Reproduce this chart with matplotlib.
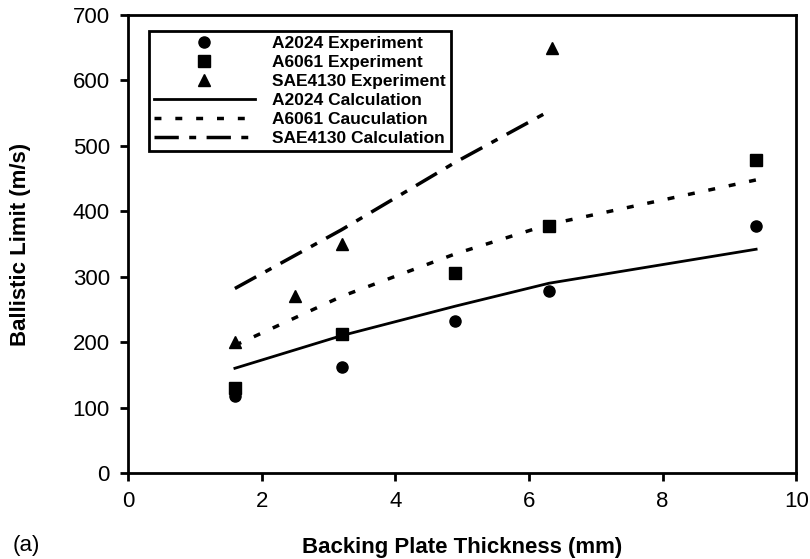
import matplotlib
matplotlib.use("Agg")
import matplotlib.pyplot as plt

plt.rcParams['font.family'] = ['Liberation Sans', 'DejaVu Sans']

# Experimental data
a2024_x = [1.6, 3.2, 4.9, 6.3, 9.4]
a2024_y = [118, 162, 232, 278, 378]
a6061_x = [1.6, 3.2, 4.9, 6.3, 9.4]
a6061_y = [130, 212, 305, 378, 478]
sae_x = [1.6, 2.5, 3.2, 6.35]
sae_y = [200, 270, 350, 650]

# Calculations
a2024c_x = [1.6, 3.2, 4.9, 6.3, 9.4]
a2024c_y = [160, 210, 255, 290, 342]
a6061c_x = [1.6, 3.2, 4.9, 6.3, 9.4]
a6061c_y = [195, 270, 335, 380, 448]
saec_x = [1.6, 3.2, 4.9, 6.3]
saec_y = [282, 372, 475, 553]

xticks = [0, 2, 4, 6, 8, 10]
yticks = [0, 100, 200, 300, 400, 500, 600, 700]

fig = plt.figure(figsize=(8.1, 5.59), dpi=100)
ax = fig.add_axes([0.158, 0.154, 0.825, 0.819])

ax.plot(a2024_x, a2024_y, 'o', color='black', ms=8, label='A2024 Experiment')
ax.plot(a6061_x, a6061_y, 's', color='black', ms=9, label='A6061 Experiment')
ax.plot(sae_x, sae_y, '^', color='black', ms=8, label='SAE4130 Experiment')
ax.plot(a2024c_x, a2024c_y, '-', color='black', lw=2, label='A2024 Calculation')
ax.plot(a6061c_x, a6061c_y, color='black', lw=2.5, dashes=(2, 4), label='A6061 Cauculation')
ax.plot(saec_x, saec_y, color='black', lw=2.5, dashes=(7, 3, 2, 3), label='SAE4130 Calculation')

ax.set_xlim(0, 10)
ax.set_ylim(0, 700)
ax.set_xticks(xticks)
ax.set_yticks(yticks)
ax.tick_params(direction='out', length=6, width=2, labelsize=16, pad=7)
for s in ax.spines.values():
    s.set_linewidth(2)

ax.set_xlabel('Backing Plate Thickness (mm)', fontsize=16, fontweight='bold', labelpad=18)
ax.set_ylabel('Ballistic Limit (m/s)', fontsize=16, fontweight='bold', labelpad=30)
fig.text(0.015, 0.015, '(a)', fontsize=16)

leg = ax.legend(loc='upper left', bbox_to_anchor=(0.018, 0.985), fancybox=False,
                edgecolor='black', framealpha=1,
                prop={'weight': 'bold', 'size': 12.5}, handlelength=5.8,
                labelspacing=0.22, borderpad=0.3, handletextpad=1.0)
leg.get_frame().set_linewidth(2)

fig.savefig('out.png', dpi=100)
